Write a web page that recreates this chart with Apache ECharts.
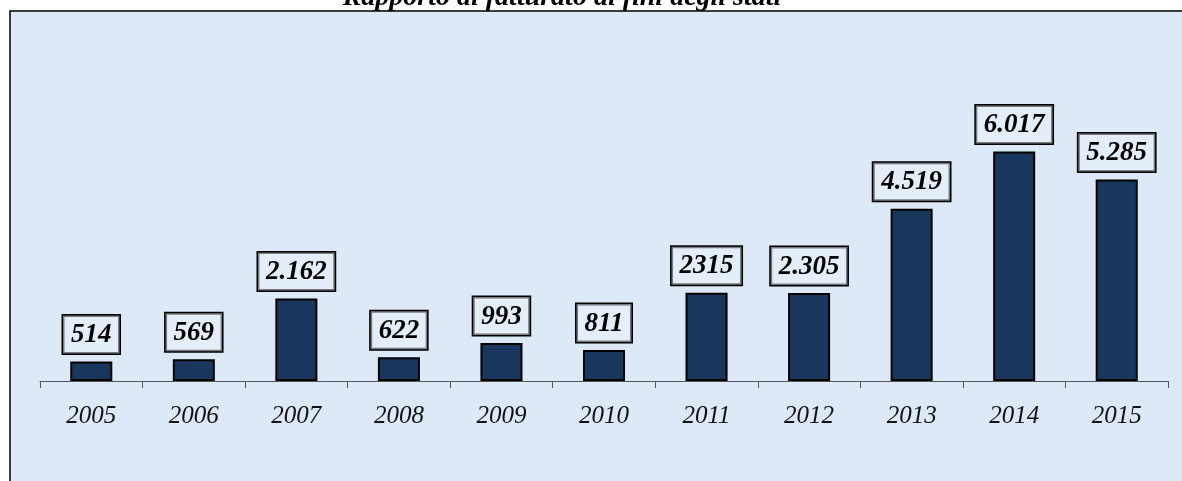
<!DOCTYPE html>
<html>
<head>
<meta charset="utf-8">
<script src="https://cdn.jsdelivr.net/npm/echarts@6/dist/echarts.min.js"></script>
<style>
  html, body { margin: 0; padding: 0; background: #ffffff; }
  #chart { width: 1182px; height: 481px; }
</style>
</head>
<body>
<div id="chart"></div>
<script>
// Years on the category axis
const years = ['2005', '2006', '2007', '2008', '2009', '2010', '2011', '2012', '2013', '2014', '2015'];
// Yearly values
const values = [514, 569, 2162, 622, 993, 811, 2315, 2305, 4519, 6017, 5285];
// Value labels as printed above each bar
const valueLabels = ['514', '569', '2.162', '622', '993', '811', '2315', '2.305', '4.519', '6.017', '5.285'];
const titleText = 'Rapporto di fatturato ai fini degli stati';

const chart = echarts.init(document.getElementById('chart'), null, { renderer: 'canvas' });

const serif = '"Liberation Serif", "DejaVu Serif", serif';

chart.setOption({
  backgroundColor: '#ffffff',
  animation: false,
  graphic: [
    {
      type: 'rect',
      z: -10,
      shape: { x: 10, y: 11, width: 1180, height: 480 },
      style: { fill: '#dde9f6', stroke: '#000000', lineWidth: 1.5 }
    },
    {
      type: 'text',
      z: 10,
      x: 562,
      y: 12,
      style: {
        text: titleText,
        font: 'italic bold 28px ' + serif,
        fill: '#000000',
        align: 'center',
        verticalAlign: 'bottom'
      }
    }
  ],
  grid: { left: 40, right: 14, top: 114, bottom: 100 },
  xAxis: {
    type: 'category',
    data: years,
    axisLine: { lineStyle: { color: '#555555', width: 1 } },
    axisTick: { show: true, length: 7, alignWithLabel: false, lineStyle: { color: '#555555' } },
    axisLabel: {
      margin: 23,
      color: '#111111',
      fontFamily: serif,
      fontStyle: 'italic',
      fontSize: 25
    }
  },
  yAxis: {
    type: 'value',
    min: 0,
    max: 7000,
    show: false,
    splitLine: { show: false }
  },
  series: [{
    type: 'bar',
    data: values,
    barWidth: '41%',
    itemStyle: { color: '#19375c', borderColor: '#000000', borderWidth: 2 },
    label: {
      show: true,
      position: 'top',
      distance: 8,
      formatter: (p) => valueLabels[p.dataIndex],
      color: '#000000',
      fontFamily: serif,
      fontStyle: 'italic',
      fontWeight: 'bold',
      fontSize: 27,
      lineHeight: 27,
      backgroundColor: 'rgba(236,243,251,0.5)',
      borderColor: '#000000',
      borderWidth: 1.5,
      padding: [6, 8, 5, 8]
    }
  }]
});
</script>
</body>
</html>
